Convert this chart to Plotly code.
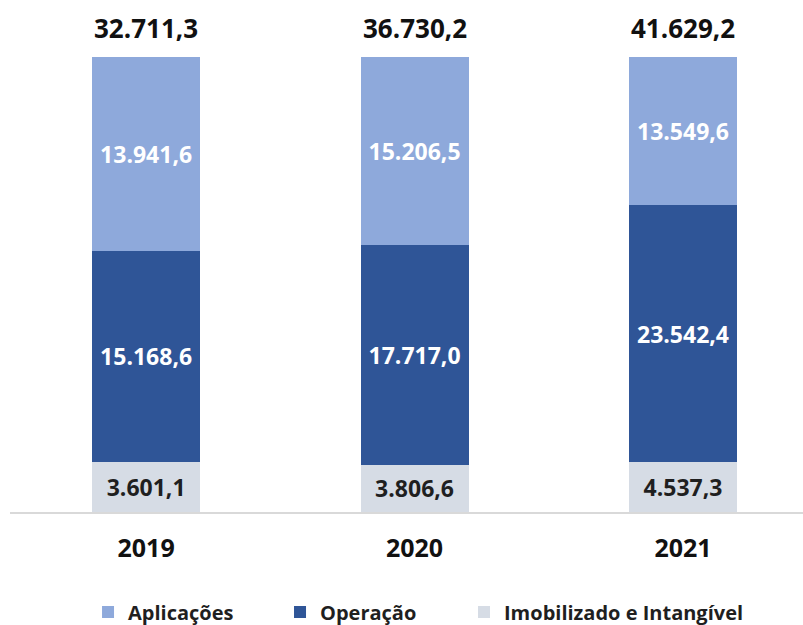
import plotly.graph_objects as go

# valores (R$ milhões)
anos = ["2019", "2020", "2021"]
imobilizado = [3601.1, 3806.6, 4537.3]
operacao = [15168.6, 17717.0, 23542.4]
aplicacoes = [13941.6, 15206.5, 13549.6]
totais = [32711.3, 36730.2, 41629.2]

FONTE = "Open Sans"


def fmt_br(v):
    # 32711.3 -> 32.711,3
    return f"{v:,.1f}".replace(",", "X").replace(".", ",").replace("X", ".")


fig = go.Figure()

# barras empilhadas de baixo para cima; cada série com a sua legenda
series = [
    ("Imobilizado e Intangível", imobilizado, "#D6DCE5", "#1F1F1F", "legend3"),
    ("Operação", operacao, "#2F5597", "#FFFFFF", "legend2"),
    ("Aplicações", aplicacoes, "#8EA9DB", "#FFFFFF", "legend"),
]
for nome, valores, cor, cor_texto, leg in series:
    fig.add_trace(go.Bar(
        x=anos,
        y=valores,
        name=nome,
        legend=leg,
        marker=dict(color=cor, line=dict(width=0)),
        text=[fmt_br(v) for v in valores],
        texttemplate="%{text}",
        textposition="inside",
        insidetextanchor="middle",
        textangle=0,
        constraintext="none",
        textfont=dict(family=FONTE, size=23, color=cor_texto, weight="bold"),
        hoverinfo="skip",
    ))

# totais acima de cada coluna (x pelo índice da categoria)
for i, total in enumerate(totais):
    fig.add_annotation(
        x=i, y=1, xref="x", yref="paper",
        text="<b>" + fmt_br(total) + "</b>",
        showarrow=False, yanchor="middle", yshift=29,
        font=dict(family=FONTE, size=26, color="#111111"),
    )

fonte_leg = dict(family=FONTE, size=20, color="#1F1F1F", weight="bold")
fig.update_layout(
    width=803, height=625,
    barmode="stack",
    barnorm="percent",
    bargap=0.598,
    plot_bgcolor="white",
    paper_bgcolor="white",
    margin=dict(l=10, r=0, t=57, b=113, autoexpand=False),
    showlegend=True,
    legend=dict(orientation="h", x=0.0984, xanchor="left", y=-0.22,
                yanchor="middle", font=fonte_leg),
    legend2=dict(orientation="h", x=0.3405, xanchor="left", y=-0.22,
                 yanchor="middle", font=fonte_leg),
    legend3=dict(orientation="h", x=0.5725, xanchor="left", y=-0.22,
                 yanchor="middle", font=fonte_leg),
    xaxis=dict(
        type="category",
        range=[-0.507, 2.447],
        showline=True, linecolor="#D9D9D9", linewidth=1.5,
        showgrid=False, ticks="",
        ticklabelstandoff=13,
        tickfont=dict(family=FONTE, size=25, color="#111111", weight="bold"),
    ),
    yaxis=dict(range=[0, 100], autorange=False, showticklabels=False,
               showgrid=False, zeroline=False, showline=False),
)

# tira a margem padrão do <body> para o gráfico ocupar a janela inteira
fig.write_html("out.html", config={"displayModeBar": False},
               post_script="document.body.style.margin='0';")
